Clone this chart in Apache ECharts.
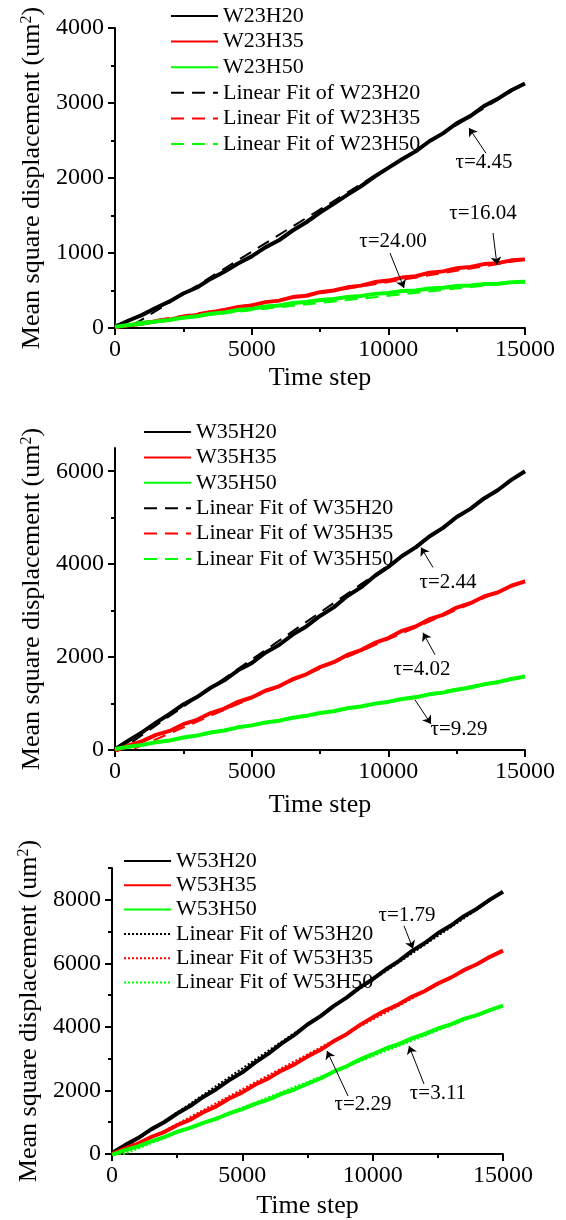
<!DOCTYPE html>
<html>
<head>
<meta charset="utf-8">
<script src="https://cdn.jsdelivr.net/npm/echarts@6/dist/echarts.min.js"></script>
<style>
  html, body { margin: 0; padding: 0; background: #fff; }
  #chart { width: 566px; height: 1220px; }
</style>
</head>
<body>
<div id="chart"></div>
<script>
// Time steps shared by all runs
const STEPS = [0, 500, 1000, 1500, 2000, 2500, 3000, 3500, 4000, 4500, 5000,
  5500, 6000, 6500, 7000, 7500, 8000, 8500, 9000, 9500, 10000,
  10500, 11000, 11500, 12000, 12500, 13000, 13500, 14000, 14500, 15000];
const FIT_STEPS = [0, 15000];

// Tick values
const X_TICKS = [0, 5000, 10000, 15000];
const Y_MAJOR_A = [0, 1000, 2000, 3000, 4000];
const Y_MINOR_A = [500, 1500, 2500, 3500];
const Y_MAJOR_B = [0, 2000, 4000, 6000];
const Y_MINOR_B = [1000, 3000, 5000];
const Y_MAJOR_C = [0, 2000, 4000, 6000, 8000];
const Y_MINOR_C = [1000, 3000, 5000, 7000, 9000];

// Mean square displacement, width 23
const W23H20 = [15, 100, 175, 270, 355, 460, 540, 655, 750, 860, 955, 1075, 1170, 1300, 1410, 1540, 1655, 1775, 1890, 2020, 2135, 2250, 2355, 2490, 2595, 2730, 2825, 2960, 3055, 3170, 3260];
const W23H35 = [10, 38, 58, 90, 112, 150, 172, 210, 236, 280, 300, 345, 365, 412, 430, 478, 500, 542, 565, 612, 632, 672, 690, 738, 755, 798, 815, 852, 865, 902, 915];
const W23H50 = [15, 40, 58, 88, 107, 138, 157, 189, 207, 239, 255, 286, 301, 333, 346, 374, 386, 414, 426, 455, 466, 493, 501, 527, 536, 560, 566, 588, 591, 610, 618];
const FIT_W23H20 = [-110, 3270];
const FIT_W23H35 = [15, 912];
const FIT_W23H50 = [45, 622];

// Mean square displacement, width 35
const W35H20 = [20, 205, 385, 590, 775, 980, 1140, 1340, 1500, 1715, 1870, 2095, 2260, 2485, 2660, 2885, 3070, 3315, 3500, 3745, 3940, 4175, 4360, 4595, 4780, 5015, 5190, 5415, 5590, 5815, 6000];
const W35H35 = [-20, 100, 190, 325, 410, 555, 650, 795, 890, 1035, 1130, 1275, 1370, 1525, 1630, 1785, 1890, 2045, 2150, 2305, 2410, 2565, 2660, 2815, 2910, 3065, 3160, 3305, 3390, 3535, 3630];
const W35H50 = [20, 72, 110, 168, 205, 268, 310, 378, 420, 488, 530, 593, 630, 693, 735, 798, 835, 898, 935, 998, 1035, 1098, 1135, 1198, 1235, 1298, 1345, 1413, 1460, 1528, 1580];
const FIT_W35H20 = [-80, 6000];
const FIT_W35H35 = [-150, 3650];
const FIT_W35H50 = [0, 1580];

// Mean square displacement, width 53
const W53H20 = [30, 280, 500, 775, 1000, 1275, 1510, 1795, 2040, 2325, 2570, 2885, 3160, 3475, 3750, 4075, 4340, 4655, 4920, 5235, 5500, 5805, 6070, 6385, 6640, 6945, 7190, 7485, 7720, 8005, 8250];
const W53H35 = [0, 180, 330, 535, 690, 905, 1080, 1315, 1500, 1745, 1940, 2185, 2380, 2625, 2820, 3065, 3280, 3545, 3770, 4055, 4300, 4525, 4710, 4945, 5130, 5365, 5550, 5785, 5970, 6205, 6400];
const W53H50 = [-30, 120, 240, 400, 530, 700, 820, 980, 1110, 1280, 1410, 1580, 1710, 1890, 2030, 2210, 2380, 2590, 2760, 2970, 3140, 3320, 3460, 3640, 3780, 3950, 4080, 4250, 4370, 4530, 4670];
const FIT_W53H20 = [-80, 8250];
const FIT_W53H35 = [-150, 6420];
const FIT_W53H50 = [-150, 4690];

// Relaxation times written beside the curves
const TAU_A = ['τ=4.45', 'τ=16.04', 'τ=24.00'];
const TAU_B = ['τ=2.44', 'τ=4.02', 'τ=9.29'];
const TAU_C = ['τ=1.79', 'τ=2.29', 'τ=3.11'];

// Where each τ note sits and where its arrow runs, in axis units
const NOTE_PLACES = [
  [ { at: [13500, 2213], from: [13573, 2330], to: [12951, 2667] },
    { at: [13463, 1533], from: [13829, 1267], to: [13976, 840] },
    { at: [10171, 1147], from: [10061, 1000], to: [10573, 533] } ],
  [ { at: [12183, 3605], from: [11634, 3928], to: [11195, 4360] },
    { at: [11232, 1727], from: [11707, 2050], to: [11268, 2525] },
    { at: [12585, 432], from: [10976, 1079], to: [11561, 561] } ],
  [ { at: [11317, 7496], from: [11202, 7181], to: [11547, 6457] },
    { at: [9629, 1543], from: [9054, 1827], to: [8248, 3244] },
    { at: [12506, 1890], from: [11969, 2205], to: [11394, 3402] } ]
];

const FONT = '"Liberation Serif", "Times New Roman", "DejaVu Serif", serif';
const BLACK = '#000000', RED = '#ff0000', GREEN = '#00ff00';

const PANELS = [
  { grid: { left: 115, top: 28, width: 410, height: 300 }, yMax: 4000,
    major: Y_MAJOR_A, minor: Y_MINOR_A, nameGapY: 67, nameGapX: 37,
    legend: { left: 170, top: 5, itemGap: 3.6 }, fitType: [13, 8],
    names: ['W23H20', 'W23H35', 'W23H50'],
    data: [W23H20, W23H35, W23H50], fits: [FIT_W23H20, FIT_W23H35, FIT_W23H50], tau: TAU_A },
  { grid: { left: 115, top: 448, width: 410, height: 302 }, yMax: 6500,
    major: Y_MAJOR_B, minor: Y_MINOR_B, nameGapY: 67, nameGapX: 42,
    legend: { left: 143, top: 421, itemGap: 3.4 }, fitType: [13, 8],
    names: ['W35H20', 'W35H35', 'W35H50'],
    data: [W35H20, W35H35, W35H50], fits: [FIT_W35H20, FIT_W35H35, FIT_W35H50], tau: TAU_B },
  { grid: { left: 112, top: 868, width: 391, height: 287 }, yMax: 9000,
    major: Y_MAJOR_C, minor: Y_MINOR_C, nameGapY: 64, nameGapX: 39,
    legend: { left: 123, top: 850, itemGap: 2.3 }, fitType: [2, 2],
    names: ['W53H20', 'W53H35', 'W53H50'],
    data: [W53H20, W53H35, W53H50], fits: [FIT_W53H20, FIT_W53H35, FIT_W53H50], tau: TAU_C }
];
const COLORS = [BLACK, RED, GREEN];

const axisLineStyle = { color: BLACK, width: 2 };
const labelStyle = { color: BLACK, fontSize: 24, fontFamily: FONT, formatter: v => String(v) };

const grids = [], xAxes = [], yAxes = [], legends = [], series = [];

PANELS.forEach((p, gi) => {
  grids.push(p.grid);

  xAxes.push({
    type: 'value', gridIndex: gi, min: 0, max: 15000, interval: 5000,
    name: 'Time step', nameLocation: 'middle', nameGap: p.nameGapX,
    nameTextStyle: { color: BLACK, fontSize: 26, fontFamily: FONT },
    axisLine: { show: true, lineStyle: axisLineStyle },
    axisTick: { show: true, length: 7, lineStyle: axisLineStyle },
    minorTick: { show: true, splitNumber: 2, length: 4, lineStyle: axisLineStyle },
    splitLine: { show: false },
    axisLabel: Object.assign({ margin: 10, customValues: X_TICKS }, labelStyle)
  });

  // labelled axis with the long ticks
  yAxes.push({
    type: 'value', gridIndex: gi, min: 0, max: p.yMax, interval: 1000, position: 'left',
    name: 'Mean square displacement (um{sup|2})', nameLocation: 'middle', nameGap: p.nameGapY,
    nameTextStyle: {
      color: BLACK, fontSize: 26, fontFamily: FONT,
      rich: { sup: { fontSize: 16, fontFamily: FONT, color: BLACK, verticalAlign: 'top' } }
    },
    axisLine: { show: true, lineStyle: axisLineStyle },
    axisTick: { show: true, length: 7, lineStyle: axisLineStyle, customValues: p.major },
    splitLine: { show: false },
    axisLabel: Object.assign({ margin: 11, customValues: p.major }, labelStyle)
  });
  // companion axis carrying only the short ticks
  yAxes.push({
    type: 'value', gridIndex: gi, min: 0, max: p.yMax, interval: 1000, position: 'left',
    axisLine: { show: false },
    axisTick: { show: true, length: 4, lineStyle: axisLineStyle, customValues: p.minor },
    axisLabel: { show: false },
    splitLine: { show: false }
  });

  const fitNames = p.names.map(n => 'Linear Fit of ' + n);
  legends.push({
    orient: 'vertical', left: p.legend.left, top: p.legend.top, itemGap: p.legend.itemGap,
    itemWidth: 47, itemHeight: 14, padding: 0,
    data: p.names.concat(fitNames),
    lineStyle: { width: 2 },
    itemStyle: { opacity: 0 },
    textStyle: { color: BLACK, fontSize: 22, fontFamily: FONT, lineHeight: 22 },
    selectedMode: false
  });

  // fitted lines sit underneath the measured curves
  p.names.forEach((n, k) => {
    series.push({
      type: 'line', name: fitNames[k], xAxisIndex: gi, yAxisIndex: gi * 2, z: 1,
      data: FIT_STEPS.map((s, i) => [s, p.fits[k][i]]),
      showSymbol: false, symbol: 'none', silent: true,
      lineStyle: { color: COLORS[k], width: 2, type: p.fitType },
      itemStyle: { color: COLORS[k] }
    });
  });
  p.names.forEach((n, k) => {
    series.push({
      type: 'line', name: n, xAxisIndex: gi, yAxisIndex: gi * 2, z: 2,
      data: STEPS.map((s, i) => [s, p.data[k][i]]),
      showSymbol: false, symbol: 'none', silent: true,
      lineStyle: { color: COLORS[k], width: 4, join: 'bevel' },
      itemStyle: { color: COLORS[k] }
    });
  });

  // τ notes with their arrows
  const places = NOTE_PLACES[gi];
  series.push({
    type: 'line', xAxisIndex: gi, yAxisIndex: gi * 2, data: [], silent: true, z: 5,
    markLine: {
      silent: true, animation: false, symbol: ['none', 'arrow'], symbolSize: 8,
      label: { show: false },
      lineStyle: { color: BLACK, width: 1, type: 'solid' },
      emphasis: { disabled: true },
      data: places.map(q => [{ coord: q.from }, { coord: q.to }])
    },
    markPoint: {
      silent: true, animation: false, symbol: 'circle', symbolSize: 1,
      itemStyle: { color: 'rgba(0,0,0,0)' },
      label: { show: true, position: 'inside', formatter: '{b}', color: BLACK, fontSize: 21, fontFamily: FONT },
      data: places.map((q, k) => ({ name: p.tau[k], coord: q.at }))
    }
  });
});

const chart = echarts.init(document.getElementById('chart'), null, { renderer: 'canvas' });
chart.setOption({
  animation: false,
  backgroundColor: '#ffffff',
  grid: grids,
  xAxis: xAxes,
  yAxis: yAxes,
  legend: legends,
  series: series
});
</script>
</body>
</html>
